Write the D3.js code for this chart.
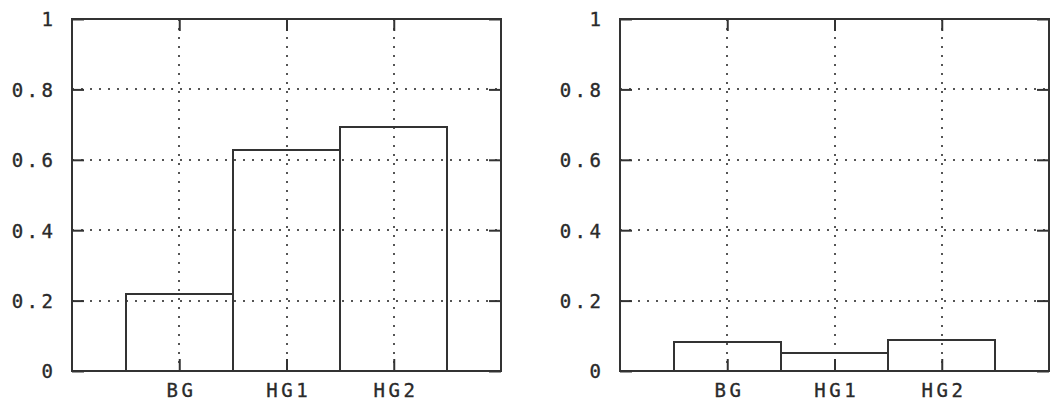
<!DOCTYPE html>
<html>
<head>
<meta charset="utf-8">
<script src="https://cdn.jsdelivr.net/npm/d3@7"></script>
<style>
  html, body { margin: 0; padding: 0; background: #fff; }
  svg { display: block; }
</style>
</head>
<body>
<svg id="chart" width="1050" height="406"></svg>
<script>
const categories = ["BG", "HG1", "HG2"];
const leftValues = [0.219, 0.629, 0.693];
const rightValues = [0.083, 0.052, 0.089];
const yTicks = [0, 0.2, 0.4, 0.6, 0.8, 1];
const yTickLabels = ["0", "0.2", "0.4", "0.6", "0.8", "1"];

(function () {
const svg = d3.select("#chart");
const plotTop = 19, plotBottom = 371;
const panels = [
  { x0: 72, x1: 501, values: leftValues },
  { x0: 620, x1: 1049, values: rightValues }
];
const FONT = "'DejaVu Sans Mono', monospace";
const FS = 19;
const LS = 3.5;
const ink = "#333";

function styleText(sel) {
  sel.attr("font-family", FONT).attr("font-size", FS)
    .attr("letter-spacing", LS).attr("fill", "#2a2a2a")
    .attr("stroke", "#2a2a2a").attr("stroke-width", 0.35);
}

panels.forEach(p => {
  const x = d3.scaleLinear().domain([0, categories.length + 1]).range([p.x0, p.x1]);
  const y = d3.scaleLinear().domain([0, 1]).range([plotBottom, plotTop]);
  const g = svg.append("g");

  // grid
  const grid = g.append("g").attr("stroke", "#555").attr("stroke-width", 2)
    .attr("stroke-dasharray", "2 7").attr("fill", "none");
  grid.selectAll("line.h").data(yTicks.filter(d => d > 0 && d < 1)).join("line")
    .attr("class", "h")
    .attr("x1", p.x0).attr("x2", p.x1)
    .attr("y1", d => Math.round(y(d))).attr("y2", d => Math.round(y(d)));
  grid.selectAll("line.v").data(categories).join("line")
    .attr("class", "v")
    .attr("y1", plotTop).attr("y2", plotBottom)
    .attr("x1", (d, i) => Math.round(x(i + 1))).attr("x2", (d, i) => Math.round(x(i + 1)));

  // bars
  g.append("g").selectAll("path").data(p.values).join("path")
    .attr("fill", "none").attr("stroke", ink).attr("stroke-width", 2)
    .attr("d", (v, i) => {
      const a = Math.round(x(i + 0.5)), b = Math.round(x(i + 1.5)), t = Math.round(y(v));
      return `M${a},${plotBottom}V${t}H${b}V${plotBottom}`;
    });

  // border
  g.append("rect").attr("x", p.x0).attr("y", plotTop)
    .attr("width", p.x1 - p.x0).attr("height", plotBottom - plotTop)
    .attr("fill", "none").attr("stroke", ink).attr("stroke-width", 2);

  // y axis (inward ticks, labels outside)
  const ya = g.append("g").attr("transform", `translate(${p.x0},0)`)
    .call(d3.axisLeft(y).tickValues(yTicks).tickFormat((d, i) => yTickLabels[i])
      .tickSizeInner(-12).tickSizeOuter(0).tickPadding(19 - LS));
  ya.select(".domain").remove();
  ya.selectAll(".tick line").attr("stroke", ink).attr("stroke-width", 2);
  ya.selectAll(".tick text").call(styleText).attr("dy", "0.36em");

  // right mirror ticks
  const yr = g.append("g").attr("transform", `translate(${p.x1},0)`)
    .call(d3.axisRight(y).tickValues(yTicks).tickFormat("").tickSizeInner(-12).tickSizeOuter(0));
  yr.select(".domain").remove();
  yr.selectAll(".tick line").attr("stroke", ink).attr("stroke-width", 2);

  // x axis bottom
  const xa = g.append("g").attr("transform", `translate(0,${plotBottom})`)
    .call(d3.axisBottom(x).tickValues(categories.map((c, i) => i + 1))
      .tickFormat((d, i) => categories[i]).tickSizeInner(-12).tickSizeOuter(0).tickPadding(19));
  xa.select(".domain").remove();
  xa.selectAll(".tick line").attr("stroke", ink).attr("stroke-width", 2);
  xa.selectAll(".tick text").call(styleText).attr("dx", LS / 2).attr("dy", "0.36em");

  // x axis top mirror
  const xt = g.append("g").attr("transform", `translate(0,${plotTop})`)
    .call(d3.axisTop(x).tickValues(categories.map((c, i) => i + 1))
      .tickFormat("").tickSizeInner(-12).tickSizeOuter(0));
  xt.select(".domain").remove();
  xt.selectAll(".tick line").attr("stroke", ink).attr("stroke-width", 2);
});
})();
</script>
</body>
</html>
